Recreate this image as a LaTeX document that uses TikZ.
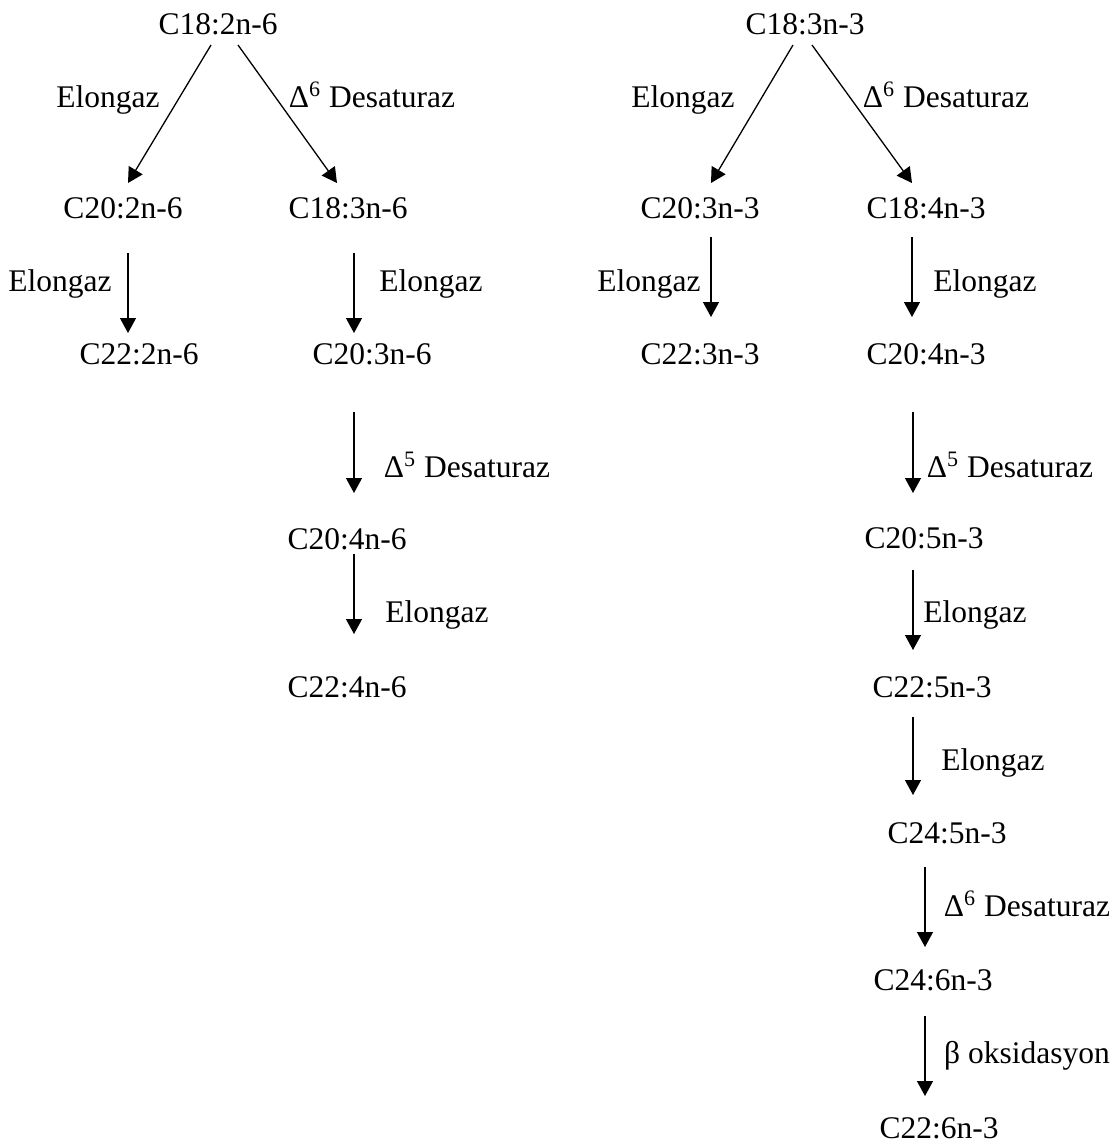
\documentclass[tikz,border=0pt]{standalone}
\usepackage{fontspec}
\setmainfont{Liberation Serif}
\usetikzlibrary{arrows.meta,calc}

\tikzset{every picture/.style={line width=0.75pt}}
\tikzset{
  acid/.style={anchor=base,inner sep=0.75pt,font=\fontsize{15.75}{18}\selectfont},
  enzyme/.style={anchor=base,inner sep=0.75pt,font=\fontsize{15.75}{18}\selectfont},
  conv/.style={-{Triangle[length=7.5pt,width=8pt]},line width=0.65pt}
}

\begin{document}
\begin{tikzpicture}[x=0.5pt,y=0.5pt,yscale=-1,xscale=1]
\useasboundingbox (0,0) rectangle (1117,1142);

% Text Node -- n-6 series
\node [acid] (topL) at (218,34) {C18:2n-6};
\node [acid] (c20L) at (123,218) {C20:2n-6};
\node [acid] (c18L) at (348,218) {C18:3n-6};
\node [acid] (c22L) at (139,364) {C22:2n-6};
\node [acid] (c20bL) at (372,364) {C20:3n-6};
\node [acid] (c20cL) at (347,549) {C20:4n-6};
\node [acid] (c22cL) at (347,697) {C22:4n-6};

% Text Node -- n-3 series
\node [acid] (topR) at (805,34) {C18:3n-3};
\node [acid] (c20R) at (700,218) {C20:3n-3};
\node [acid] (c18R) at (926,218) {C18:4n-3};
\node [acid] (c22R) at (700,364) {C22:3n-3};
\node [acid] (c20bR) at (926,364) {C20:4n-3};
\node [acid] (c20cR) at (924,548) {C20:5n-3};
\node [acid] (c22cR) at (932,697) {C22:5n-3};
\node [acid] (c24R) at (947,843) {C24:5n-3};
\node [acid] (c24bR) at (933,990) {C24:6n-3};
\node [acid] (c22dR) at (939,1138) {C22:6n-3};

% Text Node -- enzymes, n-6
\node [enzyme] (elL1) at (108,107) {Elongaz};
\node [enzyme] (dsL1) at (372,107) {Δ\textsuperscript{6} Desaturaz};
\node [enzyme] (elL2) at (60,291) {Elongaz};
\node [enzyme] (elL3) at (431,291) {Elongaz};
\node [enzyme] (dsL2) at (467,477) {Δ\textsuperscript{5} Desaturaz};
\node [enzyme] (elL4) at (437,622) {Elongaz};

% Text Node -- enzymes, n-3
\node [enzyme] (elR1) at (683,107) {Elongaz};
\node [enzyme] (dsR1) at (946,107) {Δ\textsuperscript{6} Desaturaz};
\node [enzyme] (elR2) at (649,291) {Elongaz};
\node [enzyme] (elR3) at (985,291) {Elongaz};
\node [enzyme] (dsR2) at (1010,477) {Δ\textsuperscript{5} Desaturaz};
\node [enzyme] (elR4) at (975,622) {Elongaz};
\node [enzyme] (elR5) at (993,770) {Elongaz};
\node [enzyme] (dsR3) at (1027,916) {Δ\textsuperscript{6} Desaturaz};
\node [enzyme] (boxR) at (1027,1063) {β oksidasyon};

%Straight Lines -- n-6
\draw [conv] ($(topL.base)+(-7,11)$) -- ($(c20L.base)+(5,-35)$);
\draw [conv] ($(topL.base)+(20,11)$) -- ($(c18L.base)+(-11,-35)$);
\draw [conv] ($(c20L.base)+(5,35)$) -- ($(c22L.base)+(-11,-31)$);
\draw [conv] ($(c18L.base)+(6,35)$) -- ($(c20bL.base)+(-18,-31)$);
\draw [conv] ($(c20bL.base)+(-18,48)$) -- ($(c20cL.base)+(7,-56)$);
\draw [conv] ($(c20cL.base)+(7,5)$) -- ($(c22cL.base)+(7,-63)$);

%Straight Lines -- n-3
\draw [conv] ($(topR.base)+(-12,11)$) -- ($(c20R.base)+(11,-35)$);
\draw [conv] ($(topR.base)+(7,11)$) -- ($(c18R.base)+(-14,-35)$);
\draw [conv] ($(c20R.base)+(11,19)$) -- ($(c22R.base)+(11,-47)$);
\draw [conv] ($(c18R.base)+(-14,19)$) -- ($(c20bR.base)+(-14,-47)$);
\draw [conv] ($(c20bR.base)+(-13,48)$) -- ($(c20cR.base)+(-11,-55)$);
\draw [conv] ($(c20cR.base)+(-11,22)$) -- ($(c22cR.base)+(-19,-47)$);
\draw [conv] ($(c22cR.base)+(-19,20)$) -- ($(c24R.base)+(-34,-48)$);
\draw [conv] ($(c24R.base)+(-22,24)$) -- ($(c24bR.base)+(-8,-43)$);
\draw [conv] ($(c24bR.base)+(-8,26)$) -- ($(c22dR.base)+(-14,-42)$);

\end{tikzpicture}
\end{document}
